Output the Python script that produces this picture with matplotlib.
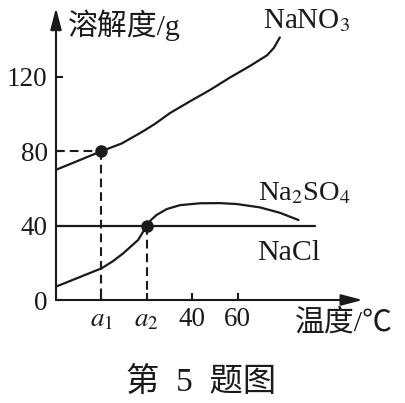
"""Solubility curves of NaNO3, Na2SO4 and NaCl (textbook figure)."""

import matplotlib
matplotlib.use("Agg")
import matplotlib.pyplot as plt

plt.rcParams["font.family"] = ["Liberation Serif", "Noto Sans CJK SC", "DejaVu Sans"]
plt.rcParams["mathtext.fontset"] = "stix"

# x positions are schematic: a1, a2, 40, 60 sit at equal steps 1..4
x_ticks = [1, 2, 3, 4]
x_labels = [r"$a_1$", r"$a_2$", "40", "60"]
y_ticks = [0, 40, 80, 120]
y_labels = ["0", "40", "80", "120"]

nano3_x = [0, 0.5, 1.0, 1.45, 1.89, 2.18, 2.51, 2.95, 3.39, 3.83, 4.27, 4.65, 4.8, 4.93]
nano3_y = [70, 75, 80, 84.2, 90.3, 94.7, 100.5, 106.8, 112.9, 119.6, 125.8, 131.6, 135.6, 141.2]

na2so4_x = [0, 0.46, 1.0, 1.25, 1.48, 1.81, 2.0, 2.1, 2.22, 2.44, 2.73, 3.17, 3.6,
            3.98, 4.49, 4.93, 5.34]
na2so4_y = [7.2, 11.7, 17.0, 20.8, 25.1, 32.3, 40.0, 43.2, 45.8, 48.9, 51.0, 52.0, 52.1,
            51.6, 49.8, 46.9, 43.0]

nacl_x = [0, 5.70]
nacl_y = [40, 40]

# marked intersection points
pts_x = [1, 2]
pts_y = [80, 40]

XMAX, YMAX = 6.755, 157

fig = plt.figure(figsize=(4.05, 4.03), dpi=100)
ax = fig.add_axes([56 / 405, 103 / 403, 306.7 / 405, 292 / 403])
ax.set_xlim(0, XMAX)
ax.set_ylim(0, YMAX)
for s in ax.spines.values():
    s.set_visible(False)

arrow = dict(arrowstyle="-|>,head_length=0.65,head_width=0.17", lw=1.5,
             color="#1a1a1a", mutation_scale=20, shrinkA=0, shrinkB=0)
ax.annotate("", xy=(XMAX, 0), xytext=(0, 0), arrowprops=arrow, annotation_clip=False)
ax.annotate("", xy=(0, YMAX), xytext=(0, 0), arrowprops=arrow, annotation_clip=False)

ax.set_xticks(x_ticks)
ax.set_xticklabels(x_labels)
ax.set_yticks(y_ticks)
ax.set_yticklabels(y_labels)
ax.tick_params(direction="in", length=5, width=1.5, color="#1a1a1a",
               labelsize=19.5, labelcolor="#1a1a1a")
ax.tick_params(axis="y", pad=6)
ax.tick_params(axis="x", pad=5)

kw = dict(color="#1a1a1a", lw=1.6, solid_capstyle="round", solid_joinstyle="round")
ax.plot(nano3_x, nano3_y, **kw)
ax.plot(na2so4_x, na2so4_y, **kw)
ax.plot(nacl_x, nacl_y, **kw)

dash = dict(color="#1a1a1a", lw=1.5, dashes=(4.2, 2.4))
ax.plot([0, pts_x[0]], [pts_y[0], pts_y[0]], **dash)
ax.plot([pts_x[0], pts_x[0]], [pts_y[0], 0], **dash)
ax.plot([pts_x[1], pts_x[1]], [pts_y[1], 0], **dash)
ax.plot(pts_x, pts_y, "o", color="#1a1a1a", ms=8, zorder=5)

tk = dict(color="#1a1a1a", clip_on=False)
ax.text(0.26, 147.8, "溶解度/g", fontsize=21.5, va="center", ha="left", **tk)
ax.text(4.56, 146.2, r"NaNO$_3$", fontsize=21, va="baseline", ha="left", **tk)
ax.text(4.46, 53.8, r"Na$_2$SO$_4$", fontsize=20.5, va="baseline", ha="left", **tk)
ax.text(4.42, 21.5, "NaCl", fontsize=21.5, va="baseline", ha="left", **tk)
ax.text(5.26, -12.4, "温度/℃", fontsize=21.5, va="center", ha="left", **tk)

fig.text(201 / 405, 1 - 382 / 403, "第  5  题图", fontsize=24, ha="center",
         va="center", color="#1a1a1a")

fig.savefig("out.png", dpi=100)
